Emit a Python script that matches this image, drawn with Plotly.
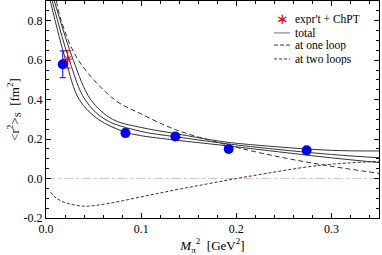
import plotly.graph_objects as go

# Lattice data (blue)
lat_x = [0.0176, 0.0835, 0.136, 0.192, 0.274]
lat_y = [0.579, 0.231, 0.213, 0.150, 0.143]
lat_err = [0.068, 0.020, 0.012, 0.010, 0.010]

# Experiment + ChPT (red star)
exp_x = [0.0228]
exp_y = [0.605]
exp_err = [0.045]

# Total (central and band edges)
tot_lo_x = [0.0045, 0.0207, 0.0350, 0.0550, 0.0835, 0.099, 0.136, 0.183, 0.215, 0.300, 0.352]
tot_lo_y = [0.900, 0.600, 0.400, 0.300, 0.235, 0.218, 0.195, 0.170, 0.152, 0.105, 0.080]
tot_mid_x = [0.0066, 0.0245, 0.0410, 0.0620, 0.099, 0.136, 0.183, 0.215, 0.300, 0.352]
tot_mid_y = [0.900, 0.600, 0.400, 0.300, 0.240, 0.212, 0.181, 0.162, 0.122, 0.105]
tot_hi_x = [0.0088, 0.0287, 0.0470, 0.0700, 0.099, 0.136, 0.183, 0.215, 0.300, 0.352]
tot_hi_y = [0.900, 0.600, 0.400, 0.300, 0.260, 0.228, 0.189, 0.172, 0.143, 0.140]

# One loop
one_x = [0.0110, 0.0160, 0.0340, 0.0720, 0.0990, 0.136, 0.183, 0.2253, 0.285, 0.352]
one_y = [0.900, 0.800, 0.600, 0.400, 0.330, 0.248, 0.180, 0.130, 0.074, 0.025]

# Two loops
two_x = [0.005, 0.0084, 0.019, 0.040, 0.061, 0.080, 0.110, 0.140, 0.200, 0.218, 0.288, 0.352]
two_y = [-0.069, -0.090, -0.120, -0.140, -0.130, -0.113, -0.083, -0.054, 0.000, 0.015, 0.067, 0.088]

x_ticks = [0.0, 0.1, 0.2, 0.3]
y_ticks = [-0.2, 0.0, 0.2, 0.4, 0.6, 0.8]
legend_labels = ["expr't + ChPT", "total", "at one loop", "at two loops"]

FONT = "Liberation Serif, Times New Roman, serif"
LINE = "#333333"

fig = go.Figure()

# zero reference line
fig.add_trace(go.Scatter(x=[0, 0.36], y=[0, 0], mode="lines",
                         line=dict(color="#e6c0c6", width=1, dash="dashdot"),
                         showlegend=False, hoverinfo="skip"))

for xs, ys in [(tot_mid_x, tot_mid_y), (tot_lo_x, tot_lo_y), (tot_hi_x, tot_hi_y)]:
    fig.add_trace(go.Scatter(x=xs, y=ys, mode="lines", name="total", showlegend=False,
                             line=dict(color=LINE, width=1, shape="spline", smoothing=1.0)))

fig.add_trace(go.Scatter(x=one_x, y=one_y, mode="lines", name="at one loop", showlegend=False,
                         line=dict(color=LINE, width=1, dash="5px,3px", shape="spline", smoothing=1.0)))
fig.add_trace(go.Scatter(x=two_x, y=two_y, mode="lines", name="at two loops", showlegend=False,
                         line=dict(color=LINE, width=1, dash="3px,2px", shape="spline", smoothing=1.0)))

fig.add_trace(go.Scatter(x=exp_x, y=exp_y, mode="markers", name="expr't + ChPT", showlegend=False,
                         marker=dict(symbol="asterisk-open", size=8, color="red",
                                     line=dict(color="red", width=1)),
                         error_y=dict(type="data", array=exp_err, color="red",
                                      thickness=1, width=3)))

fig.add_trace(go.Scatter(x=lat_x, y=lat_y, mode="markers", showlegend=False,
                         marker=dict(symbol="circle", size=10, color="blue"),
                         error_y=dict(type="data", array=lat_err, color="blue",
                                      thickness=1, width=3)))

axis_common = dict(showline=True, linecolor="black", linewidth=1, mirror="ticks",
                   ticks="inside", ticklen=5, tickcolor="black", showgrid=False,
                   zeroline=False, tickfont=dict(family=FONT, size=12, color="black"))

fig.update_xaxes(range=[0, 0.35], tickvals=x_ticks, ticktext=["0.0", "0.1", "0.2", "0.3"],
                 minor=dict(dtick=0.02, tick0=0, ticks="inside", ticklen=3, tickcolor="black"),
                 title=dict(text="<i>M</i><sub>π</sub><sup>2</sup>  [GeV<sup>2</sup>]",
                            font=dict(family=FONT, size=13, color="black"), standoff=3),
                 **axis_common)
fig.update_yaxes(range=[-0.2, 0.9], tickvals=y_ticks,
                 ticktext=["-0.2", "0.0", "0.2", "0.4", "0.6", "0.8"],
                 minor=dict(dtick=0.05, tick0=0, ticks="inside", ticklen=3, tickcolor="black"),
                 title=dict(text="&lt;r<sup>2</sup>&gt;<sub>S</sub>  [fm<sup>2</sup>]",
                            font=dict(family=FONT, size=13, color="black"), standoff=1),
                 **axis_common)

# Hand-drawn legend (compact spacing as in the original)
leg_y = [0.917, 0.853, 0.797, 0.733]
leg_text_x = 0.745
leg_x0, leg_x1 = 0.685, 0.733
annotations = []
shapes = []
for lab, yy in zip(legend_labels, leg_y):
    annotations.append(dict(xref="paper", yref="paper", x=leg_text_x, y=yy, text=lab,
                            showarrow=False, xanchor="left", yanchor="middle",
                            height=12, borderpad=0,
                            font=dict(family=FONT, size=11.5, color="black")))
annotations.append(dict(xref="paper", yref="paper", x=(leg_x0 + leg_x1) / 2, y=leg_y[0],
                        text="∗", showarrow=False, xanchor="center", yanchor="middle",
                        height=12, borderpad=0,
                        font=dict(family="DejaVu Sans", size=15, color="red")))
for yy, col, dash in [(leg_y[1], "#888888", "solid"), (leg_y[2], LINE, "4px,2px"),
                      (leg_y[3], LINE, "3px,2px")]:
    shapes.append(dict(type="line", xref="paper", yref="paper", x0=leg_x0, x1=leg_x1,
                       y0=yy, y1=yy, line=dict(color=col, width=1.2 if dash == "solid" else 1, dash=dash)))

fig.update_layout(
    width=382, height=255,
    margin=dict(l=46, r=3, t=1, b=37),
    plot_bgcolor="white", paper_bgcolor="white",
    showlegend=False,
    annotations=annotations, shapes=shapes,
)

fig.write_html("out.html", config={"displayModeBar": False},
               post_script="document.body.style.margin='0';")
